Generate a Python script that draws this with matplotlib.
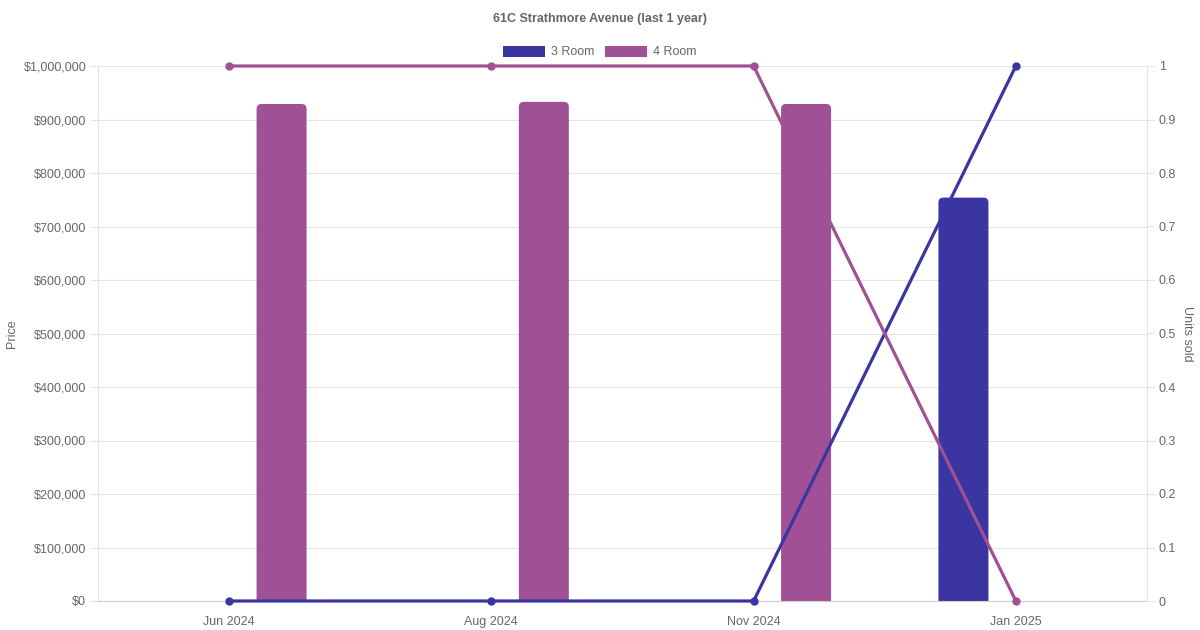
import numpy as np
import matplotlib
matplotlib.use("Agg")
import matplotlib.pyplot as plt
from matplotlib.patches import FancyBboxPatch, Patch
from matplotlib.ticker import FuncFormatter, MultipleLocator

plt.rcParams['font.family'] = ['Liberation Sans', 'DejaVu Sans']

title = "61C Strathmore Avenue (last 1 year)"
categories = ["Jun 2024", "Aug 2024", "Nov 2024", "Jan 2025"]
series_names = ["3 Room", "4 Room"]
price_3room = [0, 0, 0, 754000]
price_4room = [929000, 933000, 929000, 0]
units_3room = [0, 0, 0, 1]
units_4room = [1, 1, 1, 0]
colors = ["#3a35a0", "#a05195"]

TXT = "#666666"
GRID = "#e4e4e4"

fig = plt.figure(figsize=(12, 6.3), dpi=100)
L, R, B, T = 98/1200, 1147/1200, 1 - 601/630, 1 - 66/630
ax = fig.add_axes([L, B, R - L, T - B])
ax2 = ax.twinx()

n = len(categories)
x = np.arange(n)
ax.set_xlim(-0.5, n - 0.5)
ymax = 1_000_000
ax.set_ylim(0, ymax)
ax2.set_ylim(0, 1)

# pixel scales for rounded bars
px_x = (R - L) * 1200 / n
px_y = (T - B) * 630 / ymax
bar_w = 50 / px_x
offset = 0.2
radius_px = 5
rs = radius_px / px_x
aspect = (1 / px_y) / (1 / px_x)

for vals, off, col in [(price_3room, -offset, colors[0]), (price_4room, offset, colors[1])]:
    for xi, v in zip(x, vals):
        if v <= 0:
            continue
        ext = 3 * radius_px / px_y
        p = FancyBboxPatch((xi + off - bar_w / 2, -ext), bar_w, v + ext,
                           boxstyle=f"round,pad=0,rounding_size={rs}",
                           mutation_aspect=aspect, facecolor=col,
                           edgecolor="none", zorder=2, clip_on=True)
        ax.add_patch(p)

for vals, col in [(units_3room, colors[0]), (units_4room, colors[1])]:
    ax2.plot(x, vals, color=col, lw=2.3, marker='o', ms=5, zorder=3, clip_on=False,
             solid_capstyle='round')

# axes styling
ax.yaxis.set_major_locator(MultipleLocator(100000))
ax.yaxis.set_major_formatter(FuncFormatter(lambda v, p: f"${v:,.0f}"))
ax2.yaxis.set_major_locator(MultipleLocator(0.1))
ax2.yaxis.set_major_formatter(FuncFormatter(lambda v, p: f"{v:.1f}".rstrip('0').rstrip('.') if v not in (0, 1) else f"{int(round(v))}"))
ax.set_xticks(x)
ax.set_xticklabels(categories)

ax.grid(axis='y', color=GRID, lw=0.8, zorder=0)
ax.set_axisbelow(True)
for a in (ax, ax2):
    for s in a.spines.values():
        s.set_visible(False)
ax.spines['left'].set_visible(True)
ax.spines['left'].set_color(GRID)
ax.spines['bottom'].set_visible(True)
ax.spines['bottom'].set_color("#cfcfcf")
ax2.spines['right'].set_visible(True)
ax2.spines['right'].set_color(GRID)

ax.tick_params(axis='y', length=6, width=0.8, color=GRID, pad=2.5, labelsize=9, labelcolor=TXT)
ax.tick_params(axis='x', length=0, pad=10.5, labelsize=9, labelcolor=TXT)
ax2.tick_params(axis='y', length=6, width=0.8, color=GRID, pad=2.5, labelsize=9, labelcolor=TXT)

ax.set_ylabel("Price", color=TXT, fontsize=9, labelpad=4)
ax2.set_ylabel("Units sold", color=TXT, fontsize=9, rotation=270, labelpad=12)

fig.text(0.5, 1 - 19/630, title, ha='center', va='center', fontsize=9,
         fontweight='bold', color=TXT)

handles = [Patch(facecolor=c, edgecolor='none') for c in colors]
leg = fig.legend(handles, series_names, loc='center', bbox_to_anchor=(0.5, 1 - 52/630),
                 ncol=2, frameon=False, fontsize=9, handlelength=3.33, handleheight=1.0,
                 handletextpad=0.5, columnspacing=0.85, borderaxespad=0, borderpad=0)
for t in leg.get_texts():
    t.set_color(TXT)

fig.savefig("out.png", dpi=100)
